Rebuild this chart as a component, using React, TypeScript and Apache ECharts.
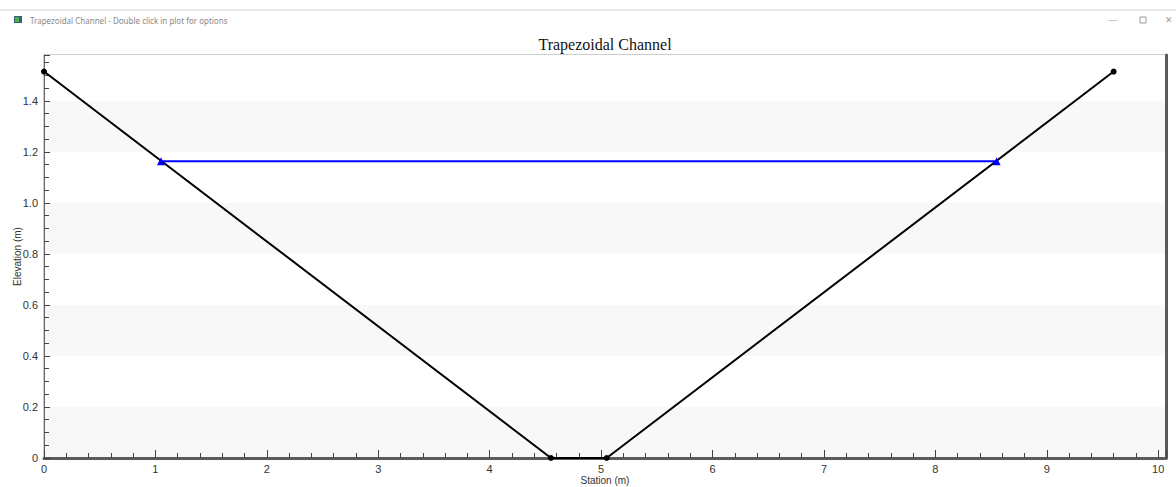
import React, { useEffect, useRef } from "react";
import * as echarts from "echarts";

const channelStation = [0, 4.55, 5.05, 9.6];
const channelElevation = [1.515, 0, 0, 1.515];
const waterStation = [1.05, 8.55];
const waterElevation = [1.163, 1.163];
const title = "Trapezoidal Channel";
const windowTitle = "Trapezoidal Channel - Double click in plot for options";
const xAxisName = "Station (m)";
const yAxisName = "Elevation (m)";

export default function App() {
  const ref = useRef<HTMLDivElement>(null);
  useEffect(() => {
    if (!ref.current) return;
    const chart = echarts.init(ref.current, undefined, { renderer: "svg" });
    const channel = channelStation.map((x, i) => [x, channelElevation[i]]);
    const water = waterStation.map((x, i) => [x, waterElevation[i]]);
    chart.setOption({
      animation: false,
      backgroundColor: "#ffffff",
      textStyle: { fontFamily: "Liberation Sans, Arial, sans-serif" },
      title: {
        text: title,
        left: 600,
        top: 31,
        textAlign: "center",
        textStyle: {
          fontFamily: "Liberation Serif, Times New Roman, serif",
          fontSize: 16,
          fontWeight: "normal",
          color: "#111",
        },
      },
      graphic: [
        { type: "line", shape: { x1: 0, y1: 10, x2: 1176, y2: 10 }, style: { stroke: "#cfcfcf", lineWidth: 1 } },
        { type: "rect", shape: { x: 14, y: 16, width: 8, height: 7 }, style: { fill: "#3a5f7a" } },
        { type: "rect", shape: { x: 15, y: 17, width: 4, height: 5 }, style: { fill: "#4caf50" } },
        { type: "text", x: 30, y: 20, style: { text: windowTitle, fontSize: 8, fill: "#8a8a8a", verticalAlign: "middle", fontFamily: "Noto Sans, sans-serif" } },
        { type: "text", x: 1113, y: 20, style: { text: "—", fontSize: 9, fill: "#999", verticalAlign: "middle", align: "center" } },
        { type: "rect", shape: { x: 1140, y: 17, width: 6, height: 6 }, style: { fill: "none", stroke: "#999", lineWidth: 1 } },
        { type: "text", x: 1165, y: 20, style: { text: "✕", fontSize: 9, fill: "#999", verticalAlign: "middle", align: "left" } },
      ],
      grid: {
        left: 44,
        top: 55,
        right: 10,
        bottom: 29,
        outerBoundsMode: "none",
        containLabel: false,
        show: true,
        borderColor: "#9a9a9a",
        borderWidth: 1,
        backgroundColor: "transparent",
      },
      xAxis: {
        type: "value",
        min: 0,
        max: 10.07,
        interval: 1,
        name: xAxisName,
        nameLocation: "middle",
        nameGap: 17,
        nameMoveOverlap: false,
        nameTextStyle: { fontSize: 10, color: "#333", lineHeight: 11 },
        axisLine: { show: true, onZero: false, lineStyle: { color: "#5a5a5a", width: 3 } },
        axisTick: { show: true, inside: true, length: 8, lineStyle: { color: "#444", width: 1 } },
        minorTick: { show: true, splitNumber: 5, length: 5, lineStyle: { color: "#444", width: 1 } },
        axisLabel: { showMaxLabel: false, fontSize: 11, color: "#333", margin: 5 },
        splitLine: { show: false },
      },
      yAxis: [
        {
          type: "value",
          min: 0,
          max: 1.58,
          interval: 0.2,
          name: yAxisName,
          nameLocation: "middle",
          nameGap: 22,
          nameMoveOverlap: false,
          nameTextStyle: { fontSize: 10, color: "#333" },
          axisLine: { show: true, lineStyle: { color: "#666", width: 1 } },
          axisTick: { show: true, inside: true, length: 6, lineStyle: { color: "#444" } },
          minorTick: { show: true, splitNumber: 4, length: 5, lineStyle: { color: "#444" } },
          axisLabel: {
            showMaxLabel: false,
            fontSize: 11,
            color: "#333",
            margin: 6,
            formatter: (v: number) => (v === 0 ? "0" : v.toFixed(1)),
          },
          splitLine: { show: false },
          splitArea: { show: true, areaStyle: { color: ["#f8f8f8", "#ffffff"] } },
        },
        {
          type: "value",
          position: "right",
          min: 0,
          max: 1.58,
          axisLine: { show: true, lineStyle: { color: "#5a5a5a", width: 3 } },
          axisTick: { show: false },
          axisLabel: { show: false },
          splitLine: { show: false },
        },
      ],
      series: [
        {
          type: "line",
          data: channel,
          yAxisIndex: 0,
          lineStyle: { color: "#000", width: 2 },
          itemStyle: { color: "#000" },
          symbol: "circle",
          symbolSize: 6,
          z: 3,
        },
        {
          type: "line",
          data: water,
          yAxisIndex: 0,
          lineStyle: { color: "#0000ff", width: 2 },
          itemStyle: { color: "#0000ff" },
          symbol: "triangle",
          symbolSize: 8,
          z: 4,
        },
      ],
    });
    return () => chart.dispose();
  }, []);
  return (
    <div
      ref={ref}
      style={{ position: "fixed", left: 0, top: 0, width: 1176, height: 487 }}
    />
  );
}
